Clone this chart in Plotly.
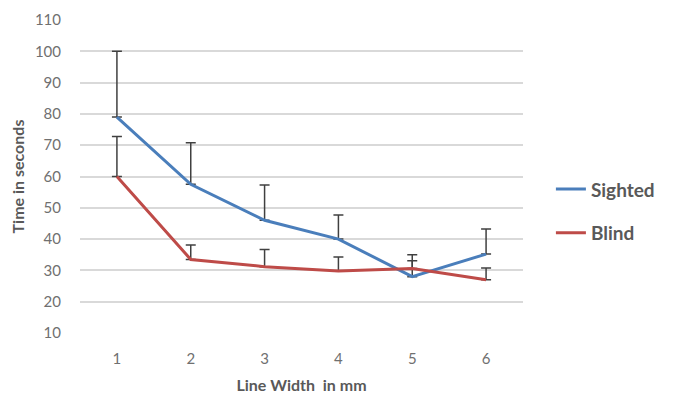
import plotly.graph_objects as go

line_width_mm = [1, 2, 3, 4, 5, 6]
sighted = [79, 57.5, 46, 40, 28, 35.2]
sighted_err_plus = [21, 13.3, 11.3, 7.7, 7, 8]
blind = [60, 33.5, 31.2, 29.8, 30.6, 27]
blind_err_plus = [12.8, 4.6, 5.5, 4.5, 2.5, 3.8]
y_ticks = [10, 20, 30, 40, 50, 60, 70, 80, 90, 100, 110]

FONT = "Lato"
TXT = "#595959"

fig = go.Figure()
fig.add_trace(go.Scatter(
    x=line_width_mm, y=sighted, mode="lines", name="Sighted",
    line=dict(color="#4A7EBB", width=3), legendgroup="a",
    error_y=dict(type="data", symmetric=False, array=sighted_err_plus,
                 arrayminus=[0] * len(sighted), color="#404040",
                 thickness=1.5, width=5),
))
fig.add_trace(go.Scatter(
    x=line_width_mm, y=blind, mode="lines", name="Blind",
    line=dict(color="#BE4B48", width=3), legendgroup="b",
    error_y=dict(type="data", symmetric=False, array=blind_err_plus,
                 arrayminus=[0] * len(blind), color="#404040",
                 thickness=1.5, width=5),
))

fig.update_layout(
    width=676, height=396,
    margin=dict(l=72, r=161, t=12, b=71),
    paper_bgcolor="white", plot_bgcolor="white",
    font=dict(family=FONT, color=TXT),
    legend=dict(x=1.063, y=0.52, xanchor="left", yanchor="top",
                font=dict(size=19, color=TXT, family=FONT, weight="bold"),
                tracegroupgap=16, bgcolor="rgba(0,0,0,0)"),
    xaxis=dict(
        range=[0.5, 6.5], tickvals=line_width_mm,
        ticktext=[str(v) for v in line_width_mm],
        showgrid=False, zeroline=False, showline=False, ticks="",
        tickfont=dict(size=15, color="#707070"),
        ticklabelstandoff=15,
        automargin=False,
        title=dict(text="Line Width  in mm",
                   font=dict(size=16, color=TXT, weight="bold"), standoff=13),
    ),
    yaxis=dict(
        range=[10, 110], tickvals=y_ticks,
        showgrid=True, gridcolor="#d9d9d9", gridwidth=1.5,
        zeroline=False, showline=False, ticks="",
        tickfont=dict(size=15, color="#707070"),
        ticklabelstandoff=18,
        automargin=False,
        title=dict(text="Time in seconds",
                   font=dict(size=16, color=TXT, weight="bold"), standoff=10),
    ),
)

fig.write_html("out.html")
